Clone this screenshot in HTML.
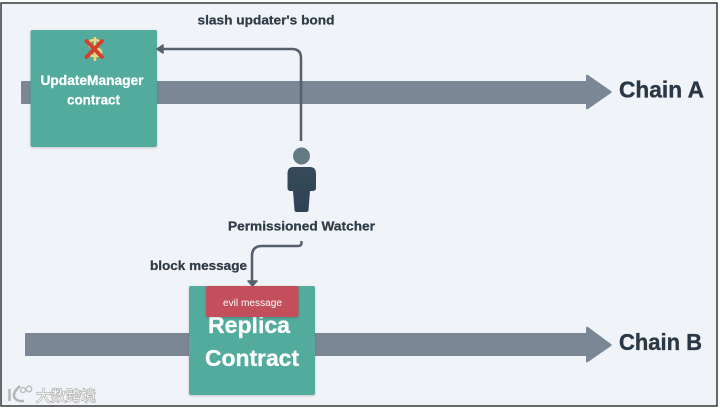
<!DOCTYPE html>
<html><head><meta charset="utf-8">
<style>
html,body{margin:0;padding:0;width:720px;height:409px;overflow:hidden;background:#fff}
svg{display:block}
text{font-family:"Liberation Sans","Noto Sans CJK SC",sans-serif;font-weight:700}
</style></head>
<body>
<svg width="720" height="409" viewBox="0 0 720 409" xmlns="http://www.w3.org/2000/svg">
<defs>
<filter id="s" x="-10%" y="-10%" width="120%" height="120%"><feDropShadow dx="0" dy="1" stdDeviation="1.2" flood-color="#000" flood-opacity=".18"/></filter>
<filter id="b"><feGaussianBlur stdDeviation="0.35"/></filter>
<linearGradient id="p" x1="0" y1="0" x2="0" y2="1"><stop offset="0" stop-color="#35495b"/><stop offset="1" stop-color="#2f4252"/></linearGradient>
</defs>
<rect x="0" y="0" width="720" height="409" fill="#fff"/>
<rect x="1" y="3" width="716" height="403" fill="#f0f3f7" stroke="#2c2c2c" stroke-width="1.4"/>

<g filter="url(#b)">
<!-- Chain A arrow -->
<path d="M22 81H586V76Q586 74 588 75L611 91Q612.500 92 611 93L588 109Q586 110 586 108V104H22Q21 104 21 103V82Q21 81 22 81Z" fill="#7b8795"/>
<!-- Chain B arrow -->
<path d="M26 333H586V328Q586 326 588 327L611 344Q612.500 345 611 346L588 362Q586 363 586 361V356H26Q25 356 25 355V334Q25 333 26 333Z" fill="#7b8795"/>

<!-- UpdateManager -->
<rect x="30.500" y="30" width="126.500" height="117" rx="2" fill="#52ab9d" filter="url(#s)"/>
<path d="M95 37V61" stroke="#efd67e" stroke-width="2.500"/>
<path d="M101 43Q99 40 94.500 40Q89 40 89 44Q89 47.500 95 48Q101 49 101 52.500Q101 56 95 56Q90 56 88 53" fill="none" stroke="#efd67e" stroke-width="2.600"/>
<path d="M86.500 41L102 57M102 41L86.500 57" stroke="#d2412f" stroke-width="3.800" stroke-linecap="round"/>
<text x="92" y="85" text-anchor="middle" font-size="14" fill="#fff" stroke="#fff" stroke-width=".25" textLength="103" lengthAdjust="spacingAndGlyphs">UpdateManager</text>
<text x="93.500" y="104.500" text-anchor="middle" font-size="14" fill="#fff" stroke="#fff" stroke-width=".25" textLength="53" lengthAdjust="spacingAndGlyphs">contract</text>

<!-- slash connector -->
<path d="M301 141V58Q301 49 292 49H160" fill="none" stroke="#56606d" stroke-width="2.500"/>
<path d="M157 49L163 45V53Z" fill="#56606d" stroke="#56606d" stroke-width="1.500" stroke-linejoin="round"/>
<text x="266" y="24.500" text-anchor="middle" font-size="13" fill="#2e3a48" stroke="#2e3a48" stroke-width=".25" textLength="137" lengthAdjust="spacingAndGlyphs">slash updater's bond</text>

<!-- person -->
<circle cx="301.500" cy="156" r="8.500" fill="#637a85"/>
<path d="M293 167H310Q316 167 316 174V188Q316 191 312 191H310L308.500 210Q308.500 212 306 212H297Q294.500 212 294.500 210L293 191H291Q287.500 191 287.500 188V174Q287.500 167 293 167Z" fill="url(#p)"/>
<text x="301.500" y="230.500" text-anchor="middle" font-size="13" fill="#2e3a48" stroke="#2e3a48" stroke-width=".25" textLength="147" lengthAdjust="spacingAndGlyphs">Permissioned Watcher</text>

<!-- block connector -->
<path d="M301.500 241V243Q301.500 246 298 246H262Q252 246 252 256V282" fill="none" stroke="#56606d" stroke-width="2.500"/>
<path d="M252.500 286L248 281H257Z" fill="#56606d" stroke="#56606d" stroke-width="1.500" stroke-linejoin="round"/>
<text x="198.500" y="270" text-anchor="middle" font-size="13" fill="#2e3a48" stroke="#2e3a48" stroke-width=".25" textLength="97" lengthAdjust="spacingAndGlyphs">block message</text>

<!-- Replica -->
<rect x="189" y="286" width="126" height="109" rx="2" fill="#52ab9d" filter="url(#s)"/>
<text x="249" y="333" text-anchor="middle" font-size="23" fill="#fff" stroke="#fff" stroke-width=".3" textLength="82" lengthAdjust="spacingAndGlyphs">Replica</text>
<text x="252" y="366" text-anchor="middle" font-size="23" fill="#fff" stroke="#fff" stroke-width=".3" textLength="94" lengthAdjust="spacingAndGlyphs">Contract</text>
<rect x="206" y="286" width="92.500" height="31" rx="2" fill="#c34f5c" filter="url(#s)"/>
<text x="252.500" y="306" text-anchor="middle" font-size="10" style="font-weight:400" fill="#fff" textLength="59" lengthAdjust="spacingAndGlyphs">evil message</text>

<!-- Labels -->
<text x="619" y="97.500" font-size="23.500" fill="#2b3745" stroke="#2b3745" stroke-width=".35" textLength="85" lengthAdjust="spacingAndGlyphs">Chain A</text>
<text x="619" y="350" font-size="23.500" fill="#2b3745" stroke="#2b3745" stroke-width=".35" textLength="83" lengthAdjust="spacingAndGlyphs">Chain B</text>

<!-- Watermark -->
<g fill="none">
<path d="M9.500 389V401" stroke="#b5b5b5" stroke-width="2.500"/>
<path d="M20 386Q13 392 14 397Q17 402 24 401" stroke="#b5b5b5" stroke-width="2.500"/>
<circle cx="23" cy="390" r="2.500" stroke="#bbb" stroke-width="1.300"/><circle cx="29" cy="389" r="2.800" stroke="#bbb" stroke-width="1.300"/>
</g>
<text x="36" y="401" font-size="15" style="font-weight:400;paint-order:stroke;stroke:#a8a8a8;stroke-width:1.200px" fill="#f5f5f5" textLength="60" font-family="Noto Sans CJK SC">大数跨境</text>
</g>
</svg>
</body></html>
